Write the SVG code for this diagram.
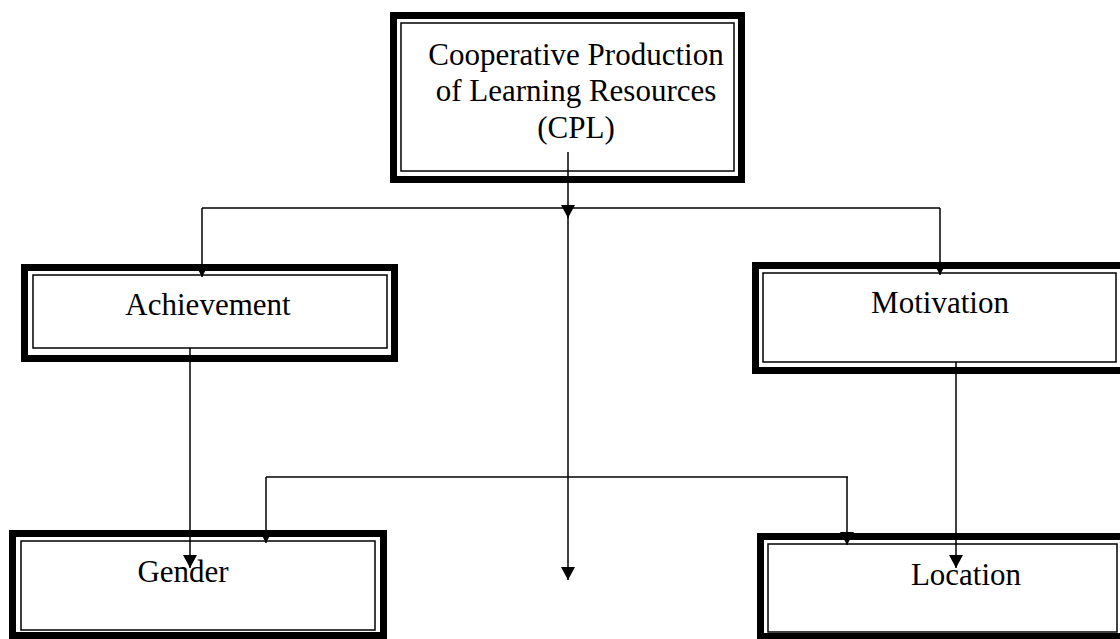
<svg xmlns="http://www.w3.org/2000/svg" width="1120" height="639" viewBox="0 0 1120 639">
<style>
.outer{fill:#fff;stroke:#000;stroke-width:7}
.inner{fill:none;stroke:#000;stroke-width:1.5}
.lbl{font-family:"Liberation Serif","Times New Roman",serif;font-size:31px;fill:#000;text-anchor:middle}
.con{fill:none;stroke:#000;stroke-width:1.5}
</style>
<defs>
<marker id="arr" markerUnits="userSpaceOnUse" viewBox="0 0 13 14" refX="13" refY="7" markerWidth="13" markerHeight="14" orient="auto">
<path d="M0,0 L13,7 L0,14 z" fill="#000"/>
</marker>
</defs>
<rect width="1120" height="639" fill="#fff"/>
<g id="cpl">
<rect class="outer" x="393.5" y="15.5" width="348" height="164"/>
<rect class="inner" x="401" y="23" width="333" height="148"/>
<text class="lbl" x="576" y="65">Cooperative Production</text>
<text class="lbl" x="576" y="101">of Learning Resources</text>
<text class="lbl" x="576" y="138">(CPL)</text>
</g>
<g id="achievement">
<rect class="outer" x="24.5" y="267.5" width="370" height="91"/>
<rect class="inner" x="33" y="275" width="354" height="73"/>
<text class="lbl" x="208" y="315">Achievement</text>
</g>
<g id="motivation">
<rect class="outer" x="755.5" y="265.5" width="368" height="105"/>
<rect class="inner" x="763" y="273" width="353" height="89"/>
<text class="lbl" x="940" y="313">Motivation</text>
</g>
<g id="gender">
<rect class="outer" x="12.5" y="533.5" width="371" height="102"/>
<rect class="inner" x="21" y="541" width="354" height="89"/>
<text class="lbl" x="183" y="582">Gender</text>
</g>
<g id="location">
<rect class="outer" x="760.5" y="536.5" width="363" height="100"/>
<rect class="inner" x="768" y="544" width="349" height="88"/>
<text class="lbl" x="966" y="585">Location</text>
</g>
<g id="connectors">
<path class="con" d="M568,152 V218" marker-end="url(#arr)"/>
<path class="con" d="M568,214 V580" marker-end="url(#arr)"/>
<path class="con" d="M202,208 H940"/>
<path class="con" d="M202,208 V277" marker-end="url(#arr)"/>
<path class="con" d="M940,208 V275" marker-end="url(#arr)"/>
<path class="con" d="M190,348 V568" marker-end="url(#arr)"/>
<path class="con" d="M956,362 V568" marker-end="url(#arr)"/>
<path class="con" d="M266,477 H848"/>
<path class="con" d="M266,477 V543" marker-end="url(#arr)"/>
<path class="con" d="M847,477 V545" marker-end="url(#arr)"/>
</g>
</svg>
